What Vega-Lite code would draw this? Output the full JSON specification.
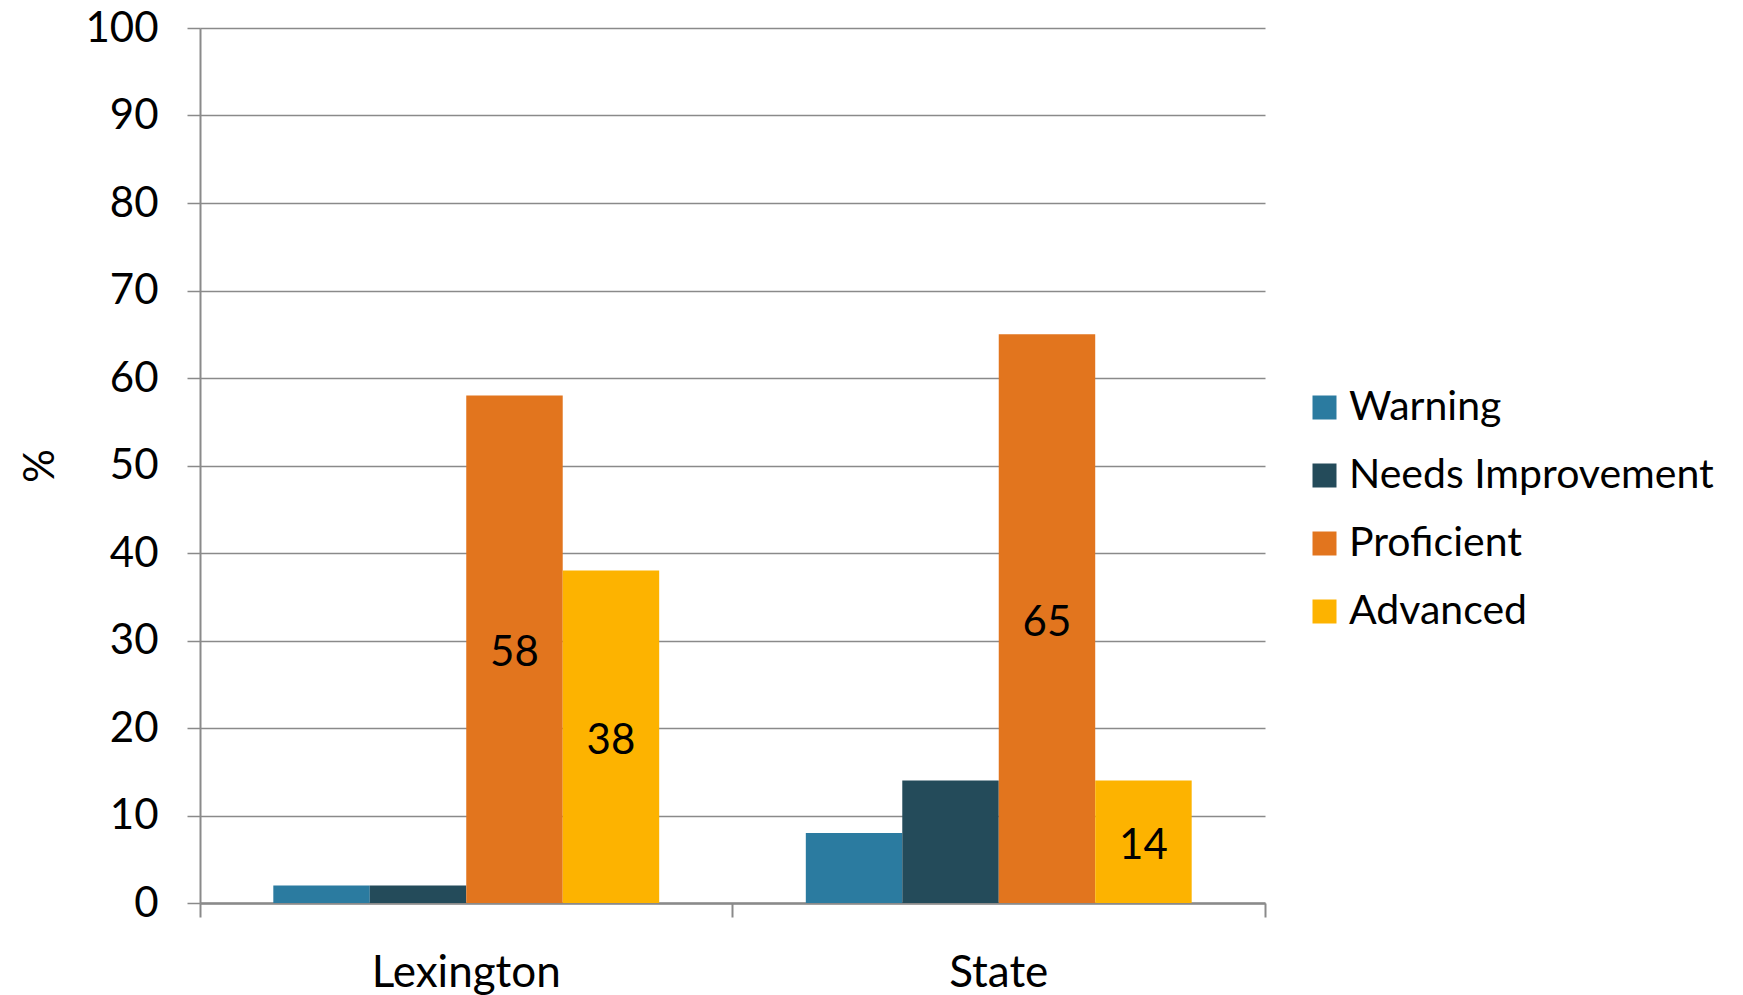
{
  "$schema": "https://vega.github.io/schema/vega-lite/v6.json",
  "autosize": {"type": "none"},
  "padding": {"left": 200, "top": 28, "right": 478, "bottom": 92},
  "width": 1065,
  "height": 875,
  "background": "white",
  "config": {
    "font": "Lato",
    "view": {"stroke": null},
    "axis": {"labelFont": "Lato", "titleFont": "Lato", "labelColor": "black", "titleColor": "black"},
    "legend": {"labelFont": "Lato"}
  },
  "data": {
    "values": [
      {"place": "Lexington", "level": "Warning", "value": 2},
      {"place": "Lexington", "level": "Needs Improvement", "value": 2},
      {"place": "Lexington", "level": "Proficient", "value": 58},
      {"place": "Lexington", "level": "Advanced", "value": 38},
      {"place": "State", "level": "Warning", "value": 8},
      {"place": "State", "level": "Needs Improvement", "value": 14},
      {"place": "State", "level": "Proficient", "value": 65},
      {"place": "State", "level": "Advanced", "value": 14}
    ]
  },
  "encoding": {
    "x": {
      "field": "place",
      "type": "nominal",
      "sort": ["Lexington", "State"],
      "scale": {"paddingInner": 0, "paddingOuter": 0},
      "axis": {
        "title": null,
        "labelAngle": 0,
        "labelFontSize": 44,
        "labelPadding": 34,
        "labelLimit": 400,
        "domainColor": "#8a8a8a",
        "domainWidth": 2.5,
        "tickColor": "#8a8a8a",
        "tickWidth": 2,
        "tickSize": 14,
        "bandPosition": 1,
        "tickExtra": true
      }
    },
    "xOffset": {
      "field": "level",
      "type": "nominal",
      "sort": ["Warning", "Needs Improvement", "Proficient", "Advanced"],
      "scale": {"domain": ["Warning", "Needs Improvement", "Proficient", "Advanced"], "paddingInner": 0, "paddingOuter": 0.76}
    }
  },
  "layer": [
    {
      "mark": {"type": "bar"},
      "encoding": {
        "y": {
          "field": "value",
          "type": "quantitative",
          "scale": {"domain": [0, 100], "nice": false},
          "axis": {
            "title": "%",
            "titleFontSize": 42,
            "titleFontWeight": "normal",
            "titlePadding": 22,
            "values": [0, 10, 20, 30, 40, 50, 60, 70, 80, 90, 100],
            "labelFontSize": 42,
            "labelPadding": 29,
            "grid": true,
            "gridColor": "#8a8a8a",
            "gridWidth": 1.5,
            "domainColor": "#8a8a8a",
            "domainWidth": 2,
            "tickColor": "#8a8a8a",
            "tickWidth": 1.5,
            "tickSize": 13
          }
        },
        "color": {
          "field": "level",
          "type": "nominal",
          "scale": {
            "domain": ["Warning", "Needs Improvement", "Proficient", "Advanced"],
            "range": ["#2B7BA0", "#244B5A", "#E2751E", "#FDB300"]
          },
          "legend": {
            "title": null,
            "orient": "none",
            "legendX": 1104,
            "legendY": 359,
            "symbolType": "square",
            "symbolSize": 576,
            "symbolStrokeWidth": 0,
            "symbolOpacity": 1,
            "labelFontSize": 41,
            "labelColor": "black",
            "labelOffset": 4,
            "rowPadding": 26,
            "labelLimit": 600
          }
        }
      }
    },
    {
      "transform": [{"filter": {"field": "level", "oneOf": ["Proficient", "Advanced"]}}],
      "mark": {"type": "text", "fontSize": 42, "color": "black", "baseline": "middle", "align": "center", "dy": 4},
      "encoding": {
        "y": {
          "field": "value",
          "type": "quantitative",
          "scale": {"domain": [0, 200], "nice": false},
          "axis": null
        },
        "text": {"field": "value", "type": "quantitative"}
      }
    }
  ],
  "resolve": {"scale": {"y": "independent"}}
}
